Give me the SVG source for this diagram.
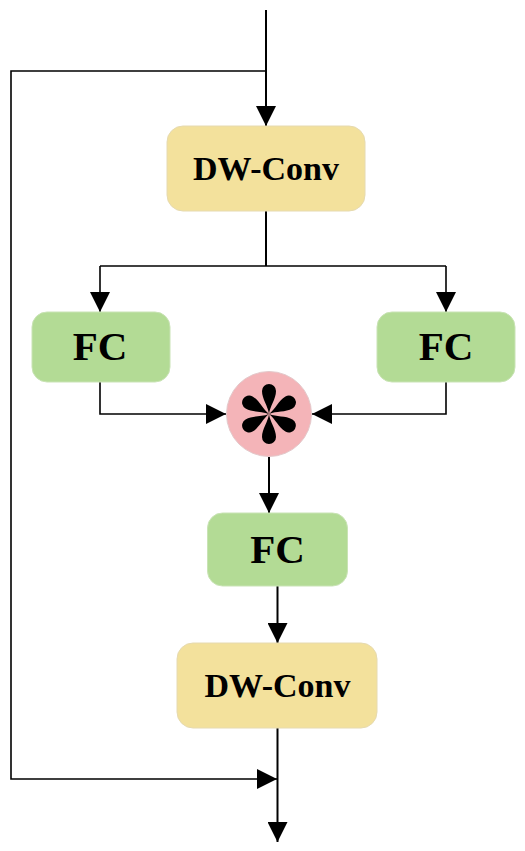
<svg xmlns="http://www.w3.org/2000/svg" width="525" height="851" viewBox="0 0 525 851">
<defs>
<style>
.ln{fill:none;stroke:#000;stroke-width:2}
.thin{fill:none;stroke:#000;stroke-width:1.6}
.dw{fill:#F3E19C;stroke:#E6DAB0;stroke-width:1}
.fc{fill:#B3DB95;stroke:#C9E3B5;stroke-width:1}
.t{font-family:"Liberation Serif","Times New Roman",serif;font-weight:bold;fill:#000;text-anchor:middle}
.t1{font-size:34px}
.t2{font-size:41px}
</style>
<marker id="ah" markerUnits="userSpaceOnUse" markerWidth="20" markerHeight="20" viewBox="0 0 20 20" refX="20" refY="10" orient="auto">
<path d="M0,0 L20,10 L0,20 Z" fill="#000"/>
</marker>
<path id="petal" d="M0,0 C-1,-8 -7,-15 -7,-23 A7 7 0 0 1 7,-23 C7,-15 1,-8 0,0 Z" fill="#000"/>
</defs>
<g id="connectors">
<path class="ln" d="M266,10 V126" marker-end="url(#ah)"/>
<path class="thin" d="M266,71 H11 V779 H277" marker-end="url(#ah)"/>
<path class="ln" d="M266,211 V266"/>
<path class="thin" d="M100,266 H446"/>
<path class="thin" d="M100,266 V312" marker-end="url(#ah)"/>
<path class="thin" d="M446,266 V312" marker-end="url(#ah)"/>
<path class="thin" d="M100,382 V414 H226" marker-end="url(#ah)"/>
<path class="thin" d="M446,382 V414 H312" marker-end="url(#ah)"/>
<path class="ln" d="M269,457 V513" marker-end="url(#ah)"/>
<path class="ln" d="M277.5,586 V643" marker-end="url(#ah)"/>
<path class="ln" d="M277.5,728 V842" marker-end="url(#ah)"/>
</g>
<g id="dwconv1">
<rect class="dw" x="167" y="126" width="198" height="85" rx="16"/>
<text class="t t1" x="266" y="180">DW-Conv</text>
</g>
<g id="fc-left">
<rect class="fc" x="32" y="312" width="138" height="70" rx="15"/>
<text class="t t2" x="100" y="360">FC</text>
</g>
<g id="fc-right">
<rect class="fc" x="377" y="312" width="138" height="70" rx="15"/>
<text class="t t2" x="446" y="360">FC</text>
</g>
<g id="multiply">
<circle cx="269" cy="414" r="42.5" fill="#F4B4B8" stroke="#E3C9CB" stroke-width="1"/>
<g transform="translate(269,414)">
<use href="#petal"/>
<use href="#petal" transform="rotate(60)"/>
<use href="#petal" transform="rotate(120)"/>
<use href="#petal" transform="rotate(180)"/>
<use href="#petal" transform="rotate(240)"/>
<use href="#petal" transform="rotate(300)"/>
</g>
</g>
<g id="fc-bottom">
<rect class="fc" x="207.5" y="513" width="140" height="73" rx="15"/>
<text class="t t2" x="277.5" y="563">FC</text>
</g>
<g id="dwconv2">
<rect class="dw" x="177" y="643" width="200" height="85" rx="16"/>
<text class="t t1" x="277.5" y="697">DW-Conv</text>
</g>
</svg>
